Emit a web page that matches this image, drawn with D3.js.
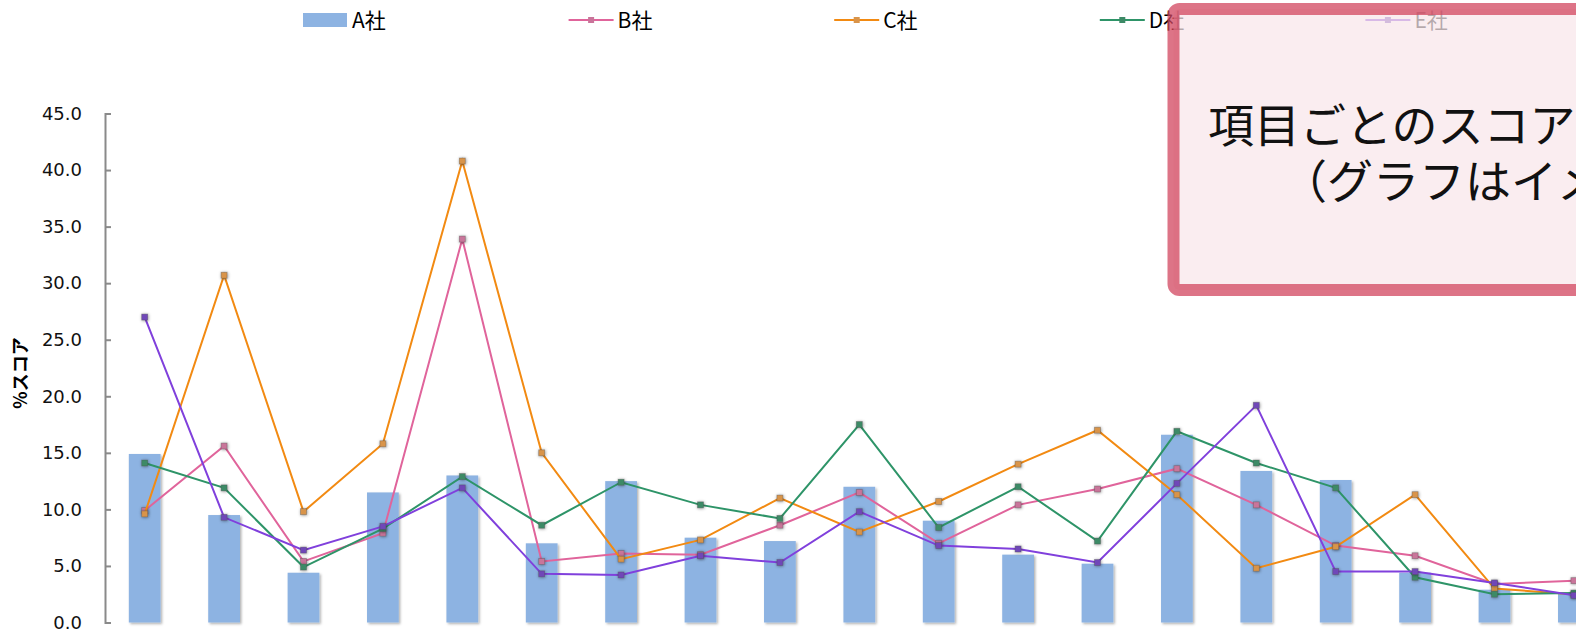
<!DOCTYPE html>
<html>
<head>
<meta charset="utf-8">
<script src="https://cdn.jsdelivr.net/npm/d3@7"></script>
<style>
  body { margin: 0; background: #fff; }
  svg { display: block; }
  .tick text { font-family: "DejaVu Sans", sans-serif; font-size: 18px; fill: #111; }
</style>
</head>
<body>
<svg id="main" width="1576" height="630"></svg>
<script>
// data
const categories = ["項目1","項目2","項目3","項目4","項目5","項目6","項目7","項目8","項目9","項目10",
                    "項目11","項目12","項目13","項目14","項目15","項目16","項目17","項目18","項目19"]
const seriesNames = ["A社","B社","C社","D社","E社"]
const valuesA = [14.9, 9.5, 4.4, 11.5, 13.0, 7.0, 12.5, 7.5, 7.2, 12.0, 9.0, 6.0, 5.2, 16.6, 13.4, 12.6, 4.4, 2.9, 2.6]
const valuesB = [9.9, 15.6, 5.4, 7.9, 33.9, 5.4, 6.1, 6.0, 8.6, 11.5, 7.0, 10.4, 11.8, 13.6, 10.4, 6.8, 5.9, 3.4, 3.7]
const valuesC = [9.6, 30.7, 9.8, 15.8, 40.8, 15.0, 5.6, 7.3, 11.0, 8.0, 10.7, 14.0, 17.0, 11.3, 4.8, 6.7, 11.3, 3.0, 2.5]
const valuesD = [14.1, 11.9, 4.9, 8.3, 12.9, 8.6, 12.4, 10.4, 9.2, 17.5, 8.4, 12.0, 7.2, 16.9, 14.1, 11.9, 4.0, 2.5, 2.6]
const valuesE = [27.0, 9.3, 6.4, 8.5, 11.9, 4.3, 4.2, 5.9, 5.3, 9.8, 6.8, 6.5, 5.3, 12.3, 19.2, 4.5, 4.5, 3.5, 2.4]
const yTicks = [0, 5, 10, 15, 20, 25, 30, 35, 40, 45]
const yTitle = "%スコア"
const noteLines = ["項目ごとのスコア比較", "（グラフはイメージです）"]

const barColor = "#8db3e2"
const lineColors = {"B社": "#e0649b", "C社": "#f28a12", "D社": "#2e9468", "E社": "#8040dc"}
const markColors = {"B社": "#c9749a", "C社": "#d9944a", "D社": "#3d8a66", "E社": "#6f47b8"}

const lineSeries = [
    {name: "B社", values: valuesB},
    {name: "C社", values: valuesC},
    {name: "D社", values: valuesD},
    {name: "E社", values: valuesE}
]

let svg = d3.select("#main")

// filters for the soft shadows
let defs = svg.append("defs")
defs.append("filter").attr("id","barShadow")
    .attr("x","-20%").attr("y","-20%").attr("width","150%").attr("height","150%")
    .append("feDropShadow")
    .attr("dx",1.5).attr("dy",1.5).attr("stdDeviation",1.3)
    .attr("flood-color","#000").attr("flood-opacity",0.3)
defs.append("filter").attr("id","markShadow")
    .attr("x","-100%").attr("y","-100%").attr("width","300%").attr("height","300%")
    .append("feDropShadow")
    .attr("dx",0.5).attr("dy",0.5).attr("stdDeviation",1.4)
    .attr("flood-color","#000").attr("flood-opacity",0.45)

let xScale = d3.scalePoint().domain(categories).range([105, 105 + 19*79.4]).padding(0.5)
let yScale = d3.scaleLinear().domain([0,45]).range([622.5,113.5])
let barW = xScale.step()*0.4

// bars
svg.append("g").selectAll("rect")
    .data(valuesA)
    .enter()
    .append("rect")
    .attr("x",(d,i)=> xScale(categories[i]) - barW/2)
    .attr("y",d=> yScale(d))
    .attr("width",barW)
    .attr("height",d=> yScale(0) - yScale(d))
    .attr("fill",barColor)
    .attr("filter","url(#barShadow)")

// Y Axis
let y_axis = d3.axisLeft(yScale).tickValues(yTicks).tickFormat(d3.format(".1f")).tickSize(-6).tickPadding(23)
let yg = svg.append("g").attr("transform",`translate(${105},0)`).call(y_axis)
yg.select(".domain").attr("stroke","#8a8a8a").attr("stroke-width",2)
yg.selectAll(".tick line").attr("stroke","#8a8a8a").attr("stroke-width",2)
yg.selectAll(".tick text").attr("fill","#111")

svg.append("text")
    .attr("transform",`translate(${27},${373}) rotate(-90)`)
    .attr("text-anchor","middle")
    .style("font-family","'Noto Sans CJK JP', sans-serif")
    .style("font-weight","bold")
    .style("font-size","18px")
    .text(yTitle)

// lines + markers
let line = d3.line().x((d,i)=> xScale(categories[i])).y(d=> yScale(d))
lineSeries.forEach(s => {
    let g = svg.append("g")
    g.append("path")
        .attr("d",line(s.values))
        .attr("fill","none")
        .attr("stroke",lineColors[s.name])
        .attr("stroke-width",2)
    g.selectAll("rect")
        .data(s.values)
        .enter()
        .append("rect")
        .attr("x",(d,i)=> xScale(categories[i]) - 3)
        .attr("y",d=> yScale(d) - 3)
        .attr("width",6).attr("height",6)
        .attr("fill",markColors[s.name])
        .attr("stroke","rgba(80,80,80,0.45)")
        .attr("stroke-width",0.8)
        .attr("filter","url(#markShadow)")
})

// legend
let legend = svg.append("g").selectAll("g")
    .data(seriesNames)
    .enter()
    .append("g")
    .attr("transform",(d,i)=> `translate(${303 + i*265.6},${20})`)

legend.filter(d=> d=="A社").append("rect")
    .attr("x",0).attr("y",-7).attr("width",44).attr("height",14)
    .attr("fill",barColor)
legend.filter(d=> d!="A社").append("line")
    .attr("x1",0).attr("x2",45).attr("y1",0).attr("y2",0)
    .attr("stroke",d=> lineColors[d]).attr("stroke-width",2)
legend.filter(d=> d!="A社").append("rect")
    .attr("x",19.5).attr("y",-3).attr("width",6).attr("height",6)
    .attr("fill",d=> markColors[d])
legend.append("text")
    .attr("x",49).attr("y",8)
    .style("font-family","'Noto Sans CJK JP', sans-serif")
    .style("font-size","21px")
    .attr("fill","#000")
    .text(d=>d)

// callout box on top
let note = svg.append("g")
note.append("rect")
    .attr("x",1173.5).attr("y",9)
    .attr("width",500).attr("height",281)
    .attr("rx",6)
    .attr("fill","rgba(248,230,234,0.73)")
    .attr("stroke","rgba(210,70,95,0.75)")
    .attr("stroke-width",12)
note.selectAll("text")
    .data(noteLines)
    .enter()
    .append("text")
    .attr("x",(d,i)=> i==0 ? 1208 : 1281)
    .attr("y",(d,i)=> i==0 ? 142 : 198)
    .style("font-family","'Noto Sans CJK JP', sans-serif")
    .style("font-size","46px")
    .attr("fill","#111")
    .text(d=>d)
</script>
</body>
</html>
